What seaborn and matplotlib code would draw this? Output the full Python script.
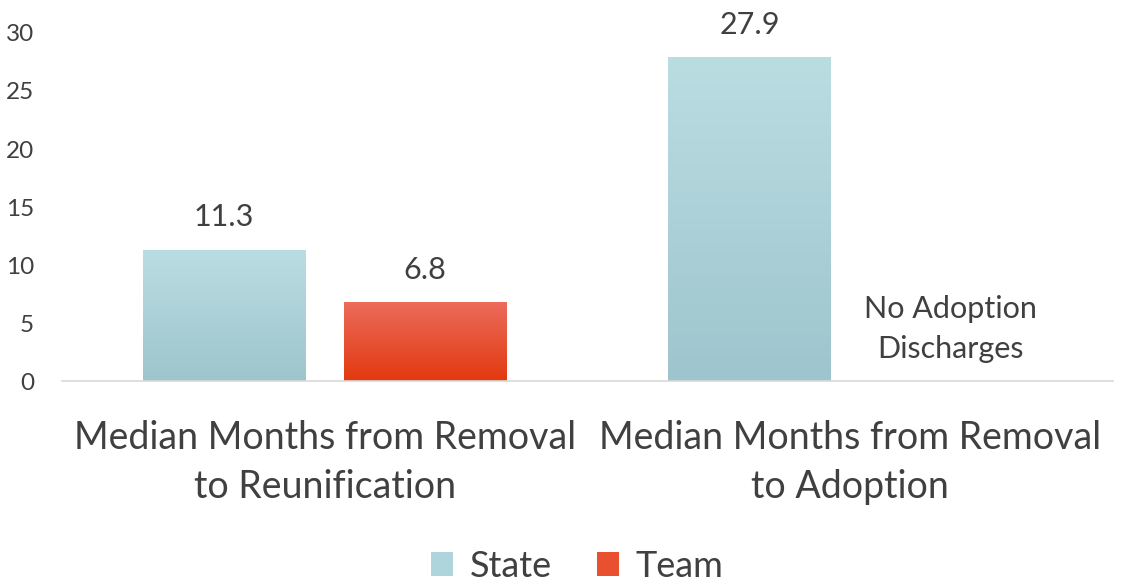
import numpy as np
import pandas as pd
import matplotlib.pyplot as plt
import seaborn as sns
from matplotlib.patches import Patch
from matplotlib.colors import LinearSegmentedColormap

categories = ["Median Months from Removal\nto Reunification",
              "Median Months from Removal\nto Adoption"]
state_values = [11.3, 27.9]
team_values = [6.8, 0.0]
value_labels = [["11.3", "27.9"], ["6.8", "No Adoption\nDischarges"]]
series = ["State", "Team"]
yticks = [0, 5, 10, 15, 20, 25, 30]

df = pd.DataFrame({
    "Category": categories * 2,
    "Series": ["State"] * 2 + ["Team"] * 2,
    "Value": state_values + team_values,
})

sns.set_style("white")
plt.rcParams["font.family"] = ["Lato", "DejaVu Sans"]
text_color = "#404040"

palette = {"State": "#AED5DB", "Team": "#E8502F"}
gradients = {
    "State": ("#BADDE2", "#9EC5CD"),
    "Team": ("#EC6B5B", "#E2390F"),
}

fig = plt.figure(figsize=(11.21, 5.86), dpi=100)
ax = fig.add_axes([0.0553, 0.3498, 0.9376, 0.5939])

sns.barplot(data=df, x="Category", y="Value", hue="Series", palette=palette,
            width=0.765, gap=0.19, legend=False, ax=ax)

# gradient fill on the bars
for container, name in zip(ax.containers, series):
    cmap = LinearSegmentedColormap.from_list(name, list(gradients[name][::-1]))
    for bar in container:
        x0, y0 = bar.get_x(), bar.get_y()
        w, h = bar.get_width(), bar.get_height()
        if h <= 0:
            continue
        grad = np.linspace(0, 1, 256).reshape(-1, 1)
        im = ax.imshow(grad, cmap=cmap, origin="lower", aspect="auto",
                       extent=[x0, x0 + w, y0, y0 + h], zorder=bar.get_zorder())
        im.set_clip_path(bar)
        bar.set_facecolor("none")

ax.set_xlim(-0.5, 1.5)
ax.set_ylim(0, 30)

# value labels
for container, labels in zip(ax.containers, value_labels):
    for bar, lab in zip(container, labels):
        cx = bar.get_x() + bar.get_width() / 2
        h = bar.get_height()
        if h > 0:
            ax.annotate(lab, (cx, h), xytext=(0, 17), textcoords="offset points",
                        ha="center", va="baseline", fontsize=22, color=text_color,
                        annotation_clip=False)
        else:
            ax.annotate(lab, (cx, 0), xytext=(0, 13), textcoords="offset points",
                        ha="center", va="bottom", fontsize=22, color=text_color,
                        linespacing=1.5, annotation_clip=False)

ax.set_yticks(yticks)
ax.set_xlabel("")
ax.set_ylabel("")
ax.tick_params(axis="y", length=0, pad=20, labelsize=17.5, labelcolor=text_color)
ax.tick_params(axis="x", length=0, pad=28, labelsize=27, labelcolor=text_color)
for lab in ax.get_xticklabels():
    lab.set_linespacing(1.45)
for lab in ax.get_yticklabels():
    lab.set_horizontalalignment("right")

for side in ["top", "right", "left"]:
    ax.spines[side].set_visible(False)
ax.spines["bottom"].set_color("#D9D9D9")
ax.spines["bottom"].set_linewidth(1.2)

handles = [Patch(facecolor=palette[s], edgecolor="none") for s in series]
fig.legend(handles, series, loc="center", bbox_to_anchor=(0.515, 0.034),
           ncol=2, frameon=False, fontsize=26, labelcolor=text_color,
           handlelength=0.62, handleheight=0.62, handletextpad=0.45,
           columnspacing=1.25)

fig.savefig("out.png", dpi=100)
